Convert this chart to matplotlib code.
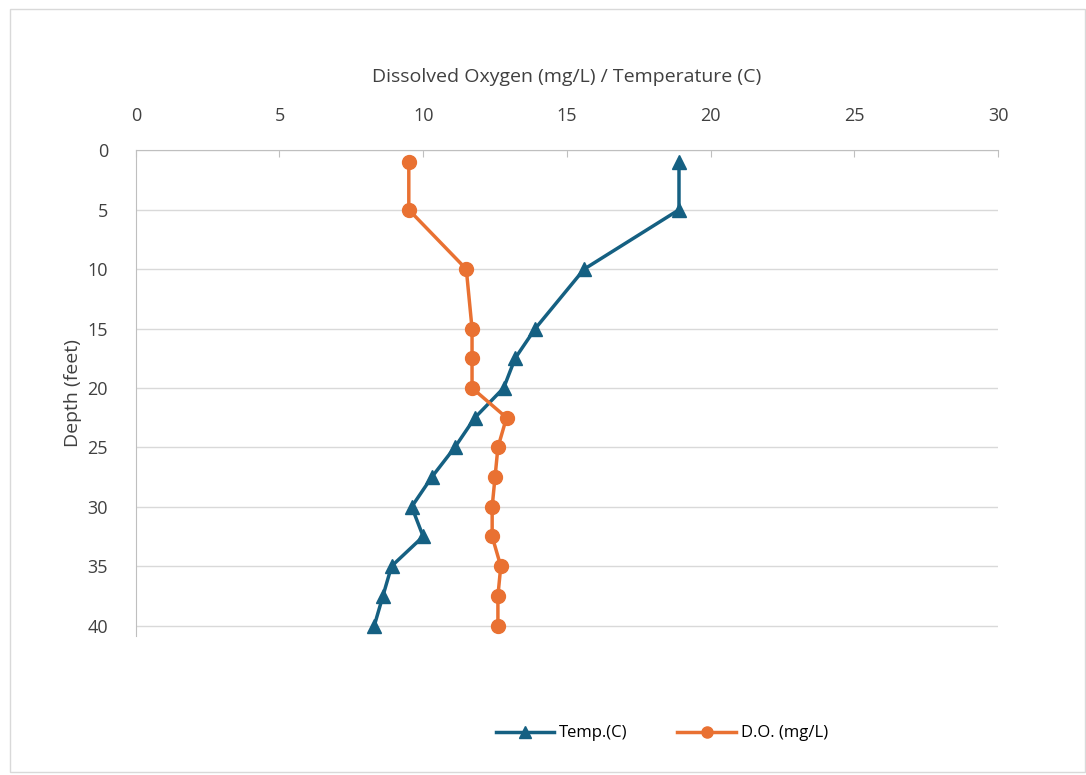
import matplotlib.pyplot as plt
from matplotlib.patches import Rectangle

depth = [1, 5, 10, 15, 17.5, 20, 22.5, 25, 27.5, 30, 32.5, 35, 37.5, 40]
temp = [18.9, 18.9, 15.6, 13.9, 13.2, 12.8, 11.8, 11.1, 10.3, 9.6, 10.0, 8.9, 8.6, 8.3]
do = [9.5, 9.5, 11.5, 11.7, 11.7, 11.7, 12.9, 12.6, 12.5, 12.4, 12.4, 12.7, 12.6, 12.6]

plt.rcParams['font.family'] = ['Open Sans', 'DejaVu Sans']
fig = plt.figure(figsize=(10.86, 7.75), dpi=100)
fig.patches.append(Rectangle((0.009, 0.004), 0.99, 0.985, transform=fig.transFigure,
                             fill=False, edgecolor='#d9d9d9', linewidth=1))
ax = fig.add_axes([0.125, 0.179, 0.794, 0.627])

ax.plot(temp, depth, color='#156082', linewidth=2.5, marker='^', markersize=10,
        label='Temp.(C)', clip_on=False)
ax.plot(do, depth, color='#e97132', linewidth=2.5, marker='o', markersize=10,
        label='D.O. (mg/L)', clip_on=False)

ax.set_xlim(0, 30)
ax.set_ylim(40.9, 0)
ax.set_xticks(range(0, 31, 5))
ax.set_yticks(range(0, 41, 5))
ax.xaxis.tick_top()
ax.xaxis.set_label_position('top')
ax.set_xlabel('Dissolved Oxygen (mg/L) / Temperature (C)', fontsize=14, color='#404040', labelpad=18)
ax.set_ylabel('Depth (feet)', fontsize=14, color='#404040')
ax.grid(axis='y', color='#d9d9d9', linewidth=1)
ax.set_axisbelow(True)
for s in ['right', 'bottom']:
    ax.spines[s].set_visible(False)
for s in ['top', 'left']:
    ax.spines[s].set_color('#bfbfbf')
ax.tick_params(axis='x', colors='#bfbfbf', labelcolor='#404040', labelsize=13, length=5,
               direction='in', pad=18)
ax.tick_params(axis='y', length=0, labelcolor='#404040', labelsize=13, pad=20)

ax.legend(loc='center', bbox_to_anchor=(0.61, -0.20), ncol=2, frameon=False, fontsize=12,
          handlelength=3.5, columnspacing=3, markerscale=0.8, handletextpad=0.3)

fig.savefig('out.png')
